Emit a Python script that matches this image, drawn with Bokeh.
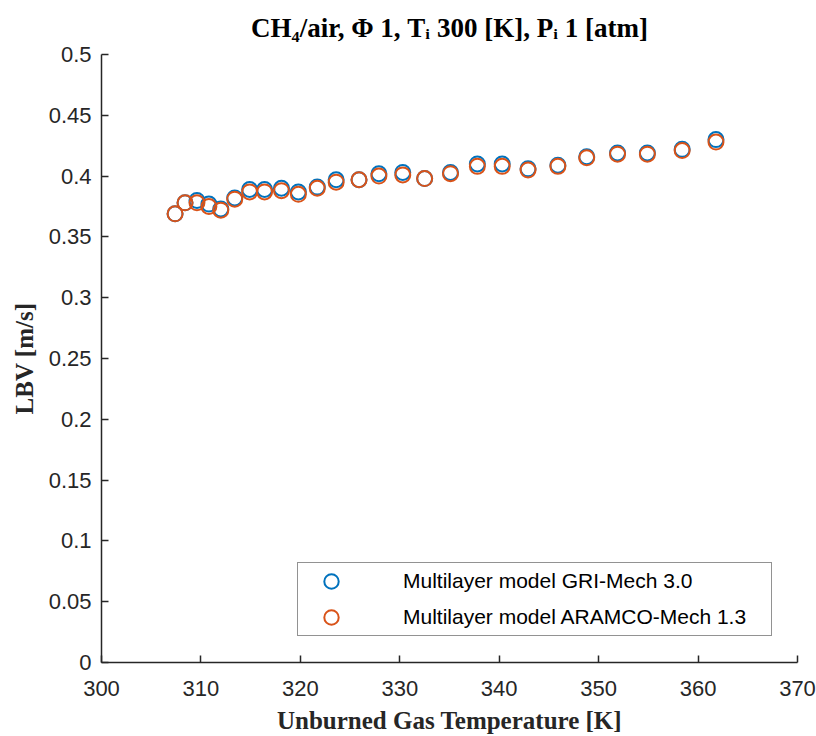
from bokeh.plotting import figure
from bokeh.models import Legend, LegendItem, FixedTicker, ColumnDataSource
from bokeh.embed import file_html
from bokeh.resources import INLINE

# ---- data ----
temp_gri = [307.4, 308.4, 309.6, 310.8, 312.0, 313.4, 314.9, 316.4, 318.1, 319.8,
            321.7, 323.6, 325.9, 327.9, 330.3, 332.5, 335.1, 337.8, 340.3, 342.9,
            345.9, 348.8, 351.9, 354.9, 358.4, 361.8]
lbv_gri = [0.369, 0.378, 0.380, 0.377, 0.373, 0.382, 0.389, 0.389, 0.390, 0.387,
           0.391, 0.397, 0.397, 0.402, 0.403, 0.398, 0.403, 0.410, 0.410, 0.406,
           0.409, 0.416, 0.419, 0.419, 0.422, 0.430]
temp_aramco = [307.4, 308.4, 309.6, 310.8, 312.0, 313.4, 314.9, 316.4, 318.1, 319.8,
               321.7, 323.6, 325.9, 327.9, 330.3, 332.5, 335.1, 337.8, 340.3, 342.9,
               345.9, 348.8, 351.9, 354.9, 358.4, 361.8]
lbv_aramco = [0.369, 0.378, 0.378, 0.375, 0.372, 0.381, 0.387, 0.387, 0.388, 0.385,
              0.390, 0.395, 0.397, 0.400, 0.401, 0.398, 0.402, 0.408, 0.408, 0.405,
              0.408, 0.415, 0.418, 0.418, 0.421, 0.428]

x_ticks = [300, 310, 320, 330, 340, 350, 360, 370]
y_ticks = [0, 0.05, 0.1, 0.15, 0.2, 0.25, 0.3, 0.35, 0.4, 0.45, 0.5]
y_tick_labels = ["0", "0.05", "0.1", "0.15", "0.2", "0.25", "0.3", "0.35", "0.4", "0.45", "0.5"]
series_names = ["Multilayer model GRI-Mech 3.0", "Multilayer model ARAMCO-Mech 1.3"]
title_text = "CH\u2084/air, \u03a6 1, T\u1d62 300 [K], P\u1d62 1 [atm]"
x_label = "Unburned Gas Temperature [K]"
y_label = "LBV [m/s]"

BLUE = "#0072BD"
ORANGE = "#D95319"
AX = "#262626"
SANS = "Liberation Sans"
SERIF = "Liberation Serif"

p = figure(width=816, height=736, x_range=(300, 370), y_range=(0, 0.5),
           output_backend="svg", toolbar_location=None,
           min_border_left=101, min_border_right=19, min_border_top=54, min_border_bottom=73)
p.outline_line_color = None
p.xgrid.visible = False
p.ygrid.visible = False
p.background_fill_color = "white"
p.border_fill_color = "white"

p.title.text = title_text
p.title.align = "center"
p.title.vertical_align = "top"
p.title.text_font = SERIF
p.title.text_font_style = "bold"
p.title.text_font_size = "27px"
p.title.text_color = "black"
p.title.standoff = 20

for ax in (p.xaxis[0], p.yaxis[0]):
    ax.axis_line_color = AX
    ax.axis_line_width = 1.5
    ax.major_tick_line_color = AX
    ax.major_tick_line_width = 1.5
    ax.major_tick_in = 7
    ax.major_tick_out = 0
    ax.minor_tick_line_color = None
    ax.major_label_text_font = SANS
    ax.major_label_text_font_size = "22px"
    ax.major_label_text_color = AX
    ax.axis_label_text_font = SERIF
    ax.axis_label_text_font_style = "bold"
    ax.axis_label_text_color = AX

p.xaxis.ticker = FixedTicker(ticks=x_ticks)
p.yaxis.ticker = FixedTicker(ticks=y_ticks)
p.yaxis.major_label_overrides = {t: s for t, s in zip(y_ticks, y_tick_labels)}
p.xaxis.major_label_standoff = 18
p.yaxis.major_label_standoff = 10

p.yaxis.axis_label = y_label
p.yaxis.axis_label_text_font_size = "25px"
p.yaxis.axis_label_standoff = 8
p.xaxis.axis_label = x_label
p.xaxis.axis_label_text_font_size = "25px"
p.xaxis.axis_label_standoff = 8

src_g = ColumnDataSource(dict(x=temp_gri, y=lbv_gri))
src_a = ColumnDataSource(dict(x=temp_aramco, y=lbv_aramco))
r_g = p.scatter("x", "y", source=src_g, marker="circle", size=15, fill_color=None,
                line_color=BLUE, line_width=2)
r_a = p.scatter("x", "y", source=src_a, marker="circle", size=15, fill_color=None,
                line_color=ORANGE, line_width=2)

legend = Legend(items=[LegendItem(label=series_names[0], renderers=[r_g]),
                       LegendItem(label=series_names[1], renderers=[r_a])],
                location=(196, 26), orientation="vertical",
                border_line_color=AX, border_line_width=1.2,
                background_fill_color="white", background_fill_alpha=1,
                padding=0, spacing=0, glyph_width=66, glyph_height=36,
                label_height=36, label_width=368, label_standoff=39, margin=0,
                label_text_font=SANS, label_text_font_size="21px",
                label_text_color="black")
p.add_layout(legend, "center")

open("out.html", "w").write(file_html(p, INLINE))
